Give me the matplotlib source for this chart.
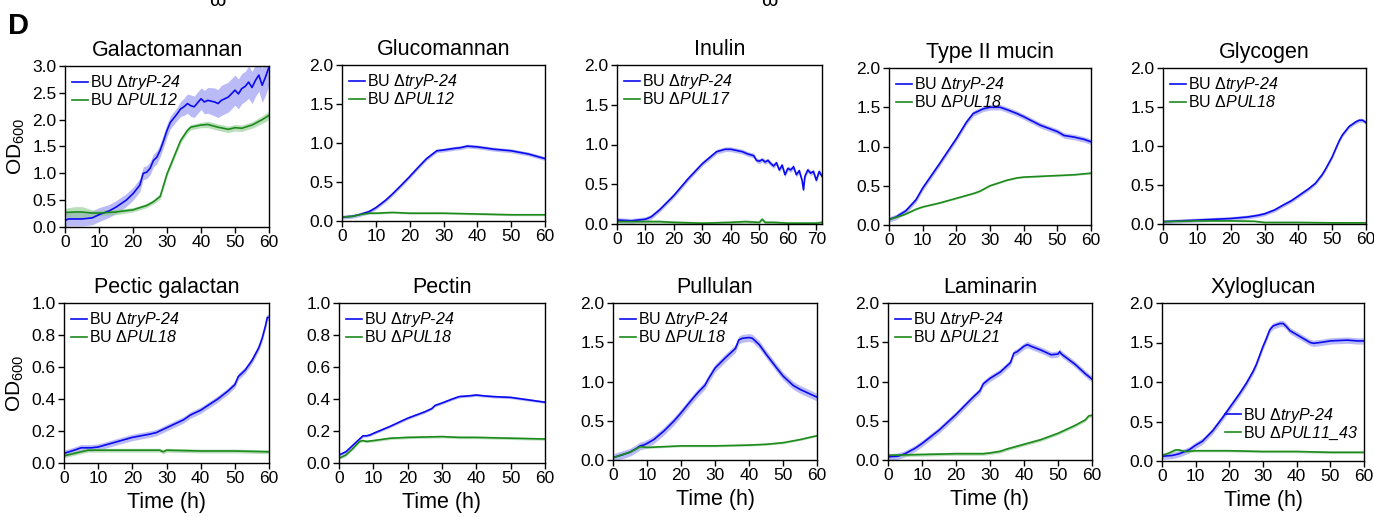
import matplotlib
matplotlib.use("Agg")
import matplotlib.pyplot as plt
import numpy as np

plt.rcParams['font.family'] = ['Liberation Sans', 'DejaVu Sans']
plt.rcParams['mathtext.fontset'] = 'custom'
plt.rcParams['mathtext.rm'] = 'Liberation Sans'
plt.rcParams['mathtext.sf'] = 'Liberation Sans:italic'

# ---------------- data ----------------
titles = ["Galactomannan", "Glucomannan", "Inulin", "Type II mucin", "Glycogen",
          "Pectic galactan", "Pectin", "Pullulan", "Laminarin", "Xyloglucan"]
mutants = ["PUL12", "PUL12", "PUL17", "PUL18", "PUL18",
           "PUL18", "PUL18", "PUL18", "PUL21", "PUL11_43"]
ylims = [3.0, 2.0, 2.0, 2.0, 2.0, 1.0, 1.0, 2.0, 2.0, 2.0]
xlims = [60, 60, 72, 60, 60, 60, 60, 60, 60, 60]

# Galactomannan
gal_tb = [0, 1, 3, 5, 8, 10, 13, 15, 18, 20, 22, 23, 24, 25, 26, 27, 28, 29, 30, 31, 33, 34, 35, 36,
          37, 38, 40, 41, 42, 44, 45, 46, 48, 50, 51, 52, 53, 54, 55, 56, 57, 58, 59, 60]
gal_b = [0.12, 0.15, 0.15, 0.15, 0.17, 0.23, 0.30, 0.37, 0.50, 0.62, 0.78, 1.00, 1.02, 1.09, 1.24, 1.30,
         1.43, 1.61, 1.80, 1.95, 2.11, 2.20, 2.24, 2.30, 2.26, 2.24, 2.39, 2.33, 2.36, 2.33, 2.30, 2.36,
         2.42, 2.55, 2.48, 2.58, 2.62, 2.70, 2.60, 2.73, 2.83, 2.64, 2.80, 2.98]
gal_sb = [0.12, 0.13, 0.13, 0.13, 0.13, 0.13, 0.12, 0.12, 0.12, 0.12, 0.12, 0.12, 0.12, 0.12, 0.12, 0.12,
          0.12, 0.12, 0.12, 0.12, 0.12, 0.14, 0.16, 0.18, 0.2, 0.2, 0.2, 0.22, 0.24, 0.26, 0.26, 0.28,
          0.28, 0.28, 0.28, 0.28, 0.28, 0.3, 0.3, 0.3, 0.3, 0.32, 0.34, 0.34]
gal_tg = [0, 3, 5, 8, 10, 15, 20, 24, 26, 28, 30, 32, 34, 36, 37, 40, 42, 45, 48, 50, 52, 55, 58, 60]
gal_g = [0.27, 0.28, 0.28, 0.26, 0.26, 0.28, 0.32, 0.40, 0.47, 0.57, 0.99, 1.30, 1.61, 1.80, 1.86,
         1.90, 1.91, 1.86, 1.82, 1.85, 1.84, 1.90, 2.00, 2.08]
gal_sg = [0.08, 0.1, 0.1, 0.06, 0.05, 0.05, 0.04, 0.04, 0.04, 0.05, 0.05, 0.05, 0.05, 0.05, 0.05,
          0.05, 0.06, 0.06, 0.06, 0.06, 0.06, 0.06, 0.07, 0.08]

# Glucomannan
glu_tb = [0, 3, 5, 8, 10, 13, 15, 18, 20, 23, 25, 28, 30, 33, 35, 37, 40, 45, 50, 55, 60]
glu_b = [0.05, 0.06, 0.08, 0.12, 0.17, 0.27, 0.35, 0.48, 0.57, 0.71, 0.80, 0.90, 0.91, 0.93, 0.94,
         0.96, 0.95, 0.92, 0.90, 0.86, 0.80]
glu_tg = [0, 3, 5, 8, 10, 15, 20, 30, 40, 50, 60]
glu_g = [0.05, 0.06, 0.08, 0.10, 0.10, 0.11, 0.10, 0.10, 0.09, 0.08, 0.08]

# Inulin
inu_tb = [0, 5, 10, 12, 15, 20, 25, 30, 35, 38, 40, 44, 46, 48, 49, 50, 51, 52, 53, 54, 55, 56, 57,
          58, 59, 60, 61, 62, 63, 64, 65, 65.5, 66, 67, 68, 69, 70, 71, 72]
inu_b = [0.05, 0.04, 0.06, 0.09, 0.18, 0.36, 0.57, 0.76, 0.91, 0.94, 0.94, 0.91, 0.88, 0.86, 0.80,
         0.79, 0.81, 0.78, 0.80, 0.76, 0.73, 0.77, 0.68, 0.74, 0.62, 0.70, 0.68, 0.72, 0.62, 0.67,
         0.55, 0.43, 0.60, 0.68, 0.64, 0.66, 0.55, 0.66, 0.60]
inu_tg = [0, 5, 10, 15, 20, 30, 40, 45, 50, 51, 52, 55, 60, 65, 70, 72]
inu_g = [0.03, 0.03, 0.03, 0.03, 0.02, 0.01, 0.02, 0.03, 0.02, 0.06, 0.02, 0.02, 0.01, 0.01, 0.01, 0.02]

# Type II mucin
muc_tb = [0, 2, 5, 8, 10, 15, 20, 23, 25, 28, 30, 33, 35, 38, 40, 45, 50, 52, 55, 58, 60]
muc_b = [0.07, 0.10, 0.18, 0.32, 0.47, 0.78, 1.10, 1.31, 1.42, 1.48, 1.50, 1.50, 1.47, 1.42, 1.38,
         1.27, 1.19, 1.14, 1.12, 1.09, 1.06]
muc_tg = [0, 3, 5, 8, 10, 15, 20, 25, 27, 30, 35, 38, 40, 45, 50, 55, 60]
muc_g = [0.07, 0.11, 0.14, 0.20, 0.23, 0.28, 0.34, 0.40, 0.43, 0.50, 0.57, 0.60, 0.61, 0.62, 0.63,
         0.64, 0.66]

# Glycogen
gly_tb = [0, 10, 20, 25, 28, 30, 33, 35, 38, 40, 43, 45, 47, 48, 50, 52, 53, 55, 57, 58, 59, 60]
gly_b = [0.03, 0.05, 0.07, 0.09, 0.11, 0.13, 0.18, 0.23, 0.30, 0.36, 0.45, 0.52, 0.63, 0.70, 0.86,
         1.06, 1.14, 1.25, 1.31, 1.33, 1.33, 1.30]
gly_tg = [0, 10, 20, 27, 30, 40, 50, 60]
gly_g = [0.03, 0.04, 0.04, 0.035, 0.02, 0.02, 0.015, 0.015]

# Pectic galactan
pga_tb = [0, 3, 5, 8, 10, 15, 20, 25, 27, 30, 35, 37, 40, 45, 48, 50, 51, 53, 55, 57, 58, 59, 59.5, 60]
pga_b = [0.06, 0.08, 0.095, 0.095, 0.10, 0.13, 0.16, 0.18, 0.19, 0.22, 0.27, 0.30, 0.33, 0.40, 0.45,
         0.49, 0.54, 0.58, 0.64, 0.72, 0.78, 0.86, 0.91, 0.91]
pga_tg = [0, 3, 7, 10, 20, 28, 29, 30, 40, 50, 60]
pga_g = [0.045, 0.06, 0.08, 0.08, 0.08, 0.08, 0.07, 0.08, 0.075, 0.075, 0.07]

# Pectin
pec_tb = [0, 2, 4, 6, 7, 8, 9, 10, 15, 20, 25, 27, 28, 30, 33, 35, 38, 40, 42, 45, 50, 55, 60]
pec_b = [0.05, 0.07, 0.11, 0.15, 0.17, 0.17, 0.175, 0.185, 0.23, 0.28, 0.32, 0.34, 0.36, 0.375, 0.40,
         0.415, 0.42, 0.425, 0.42, 0.415, 0.41, 0.395, 0.38]
pec_tg = [0, 2, 4, 6, 7, 8, 10, 15, 20, 30, 35, 40, 50, 60]
pec_g = [0.03, 0.05, 0.09, 0.135, 0.14, 0.135, 0.14, 0.155, 0.16, 0.165, 0.16, 0.16, 0.155, 0.15]

# Pullulan
pul_tb = [0, 3, 5, 7, 8, 9, 10, 12, 15, 18, 20, 23, 25, 27, 28, 30, 33, 35, 36, 37, 38, 40, 41, 43,
          45, 48, 50, 53, 55, 58, 60]
pul_b = [0.03, 0.07, 0.10, 0.15, 0.18, 0.19, 0.21, 0.26, 0.37, 0.50, 0.60, 0.76, 0.86, 0.95, 1.03,
         1.17, 1.30, 1.38, 1.42, 1.53, 1.55, 1.56, 1.55, 1.47, 1.35, 1.18, 1.07, 0.95, 0.90, 0.84, 0.80]
pul_tg = [0, 5, 8, 10, 15, 20, 30, 40, 45, 50, 55, 60]
pul_g = [0.03, 0.10, 0.17, 0.16, 0.17, 0.18, 0.18, 0.19, 0.20, 0.22, 0.26, 0.31]

# Laminarin
lam_tb = [0, 3, 5, 8, 10, 15, 20, 25, 27, 28, 30, 33, 35, 36, 37, 38, 40, 41, 42, 45, 48, 50, 50.5,
          51, 55, 58, 60]
lam_b = [0.04, 0.05, 0.08, 0.15, 0.21, 0.38, 0.58, 0.80, 0.88, 0.97, 1.04, 1.12, 1.20, 1.24, 1.36,
         1.38, 1.45, 1.47, 1.45, 1.40, 1.34, 1.35, 1.38, 1.35, 1.22, 1.10, 1.03]
lam_tg = [0, 10, 20, 28, 30, 33, 35, 40, 45, 50, 55, 58, 59, 60]
lam_g = [0.06, 0.07, 0.08, 0.08, 0.09, 0.11, 0.14, 0.20, 0.26, 0.34, 0.44, 0.51, 0.56, 0.57]

# Xyloglucan
xyl_tb = [0, 3, 5, 8, 10, 12, 15, 18, 20, 23, 25, 27, 28, 30, 31, 32, 33, 35, 36, 37, 38, 40, 42,
          44, 45, 47, 50, 55, 58, 60]
xyl_b = [0.06, 0.07, 0.09, 0.14, 0.20, 0.25, 0.38, 0.55, 0.67, 0.85, 0.98, 1.13, 1.22, 1.45, 1.55,
         1.66, 1.71, 1.74, 1.74, 1.70, 1.65, 1.60, 1.55, 1.50, 1.49, 1.50, 1.52, 1.53, 1.52, 1.52]
xyl_tg = [0, 2, 4, 5, 7, 10, 20, 30, 40, 50, 60]
xyl_g = [0.07, 0.10, 0.14, 0.14, 0.12, 0.13, 0.13, 0.12, 0.12, 0.11, 0.11]

# band half-widths (SD) per panel for the remaining series
sd_blue = [None, 0.025, 0.03, 0.035, 0.025, 0.02, 0.008, 0.05, 0.04, 0.04]
sd_green = [None, 0.012, 0.02, 0.01, 0.01, 0.012, 0.008, 0.012, 0.02, 0.015]

series = [
    (gal_tb, gal_b, gal_tg, gal_g),
    (glu_tb, glu_b, glu_tg, glu_g),
    (inu_tb, inu_b, inu_tg, inu_g),
    (muc_tb, muc_b, muc_tg, muc_g),
    (gly_tb, gly_b, gly_tg, gly_g),
    (pga_tb, pga_b, pga_tg, pga_g),
    (pec_tb, pec_b, pec_tg, pec_g),
    (pul_tb, pul_b, pul_tg, pul_g),
    (lam_tb, lam_b, lam_tg, lam_g),
    (xyl_tb, xyl_b, xyl_tg, xyl_g),
]

# axes boxes in pixels: left, right, top, bottom
boxes = [(65, 269, 66, 227), (342, 545, 65, 221), (617, 822, 65, 224), (889, 1091, 68, 225),
         (1163, 1366, 68, 224),
         (64, 269, 303, 463), (339, 545, 303, 463), (613, 817, 303, 460), (888, 1092, 303, 460),
         (1162, 1364, 303, 461)]

W, H = 1374, 517
fig = plt.figure(figsize=(W / 100, H / 100), dpi=100)

BLUE = '#0a0af0'
BLUE_BAND = '#8c8cf2'
GREEN = '#1d8a1d'
GREEN_BAND = '#8cc88c'

for i, (l, r, t, b) in enumerate(boxes):
    ax = fig.add_axes([l / W, 1 - b / H, (r - l) / W, (b - t) / H])
    tb, yb, tg, yg = series[i]
    tb = np.array(tb); yb = np.array(yb); tg = np.array(tg); yg = np.array(yg)
    if i == 0:
        sb = np.array(gal_sb); sg = np.array(gal_sg)
    else:
        sb = sd_blue[i]; sg = sd_green[i]
    ax.fill_between(tb, yb - sb, yb + sb, color=BLUE_BAND, alpha=0.6, lw=0)
    ax.fill_between(tg, yg - sg, yg + sg, color=GREEN_BAND, alpha=0.6, lw=0)
    ax.plot(tb, yb, color=BLUE, lw=1.2, label='BU Δ$\\mathsf{tryP\u201024}$')
    ax.plot(tg, yg, color=GREEN, lw=1.2,
            label='BU Δ$\\mathsf{' + mutants[i].replace('_', '\\_') + '}$')

    ax.set_xlim(0, xlims[i])
    ax.set_ylim(0, ylims[i])
    ax.set_xticks(np.arange(0, xlims[i] + 1, 10))
    if ylims[i] == 1.0:
        yt = np.arange(0, 1.01, 0.2)
    else:
        yt = np.arange(0, ylims[i] + 0.01, 0.5)
    ax.set_yticks(yt)
    ax.set_yticklabels([f'{v:.1f}' for v in yt])
    ax.tick_params(direction='out', length=4, width=1, labelsize=12.5, pad=2, colors='black')
    for s in ax.spines.values():
        s.set_linewidth(1.0)
        s.set_color('black')
    ax.set_title(titles[i], fontsize=15.5, pad=7)
    if i in (0, 5):
        ax.set_ylabel(r'OD$_{600}$', fontsize=15, labelpad=4)
    if i >= 5:
        ax.set_xlabel('Time (h)', fontsize=15.5, labelpad=4)
    if i == 9:
        ax.legend(loc='lower right', bbox_to_anchor=(1.0, 0.08), frameon=False, fontsize=11.5,
                  handlelength=1.0, handletextpad=0.1, labelspacing=0.0, borderaxespad=0.15,
                  borderpad=0.25)
    else:
        ax.legend(loc='upper left', frameon=False, fontsize=11.5, handlelength=1.0,
                  handletextpad=0.1, labelspacing=0.0, borderaxespad=0.15, borderpad=0.3)

fig.text(8 / W, 1 - 12 / H, 'D', fontsize=21, fontweight='bold', va='top', ha='left')
fig.text(217 / W, 1.0, 'ω', fontsize=15, va='center', ha='center')
fig.text(769 / W, 1.0, 'ω', fontsize=15, va='center', ha='center')

fig.savefig('out.png', dpi=100)
